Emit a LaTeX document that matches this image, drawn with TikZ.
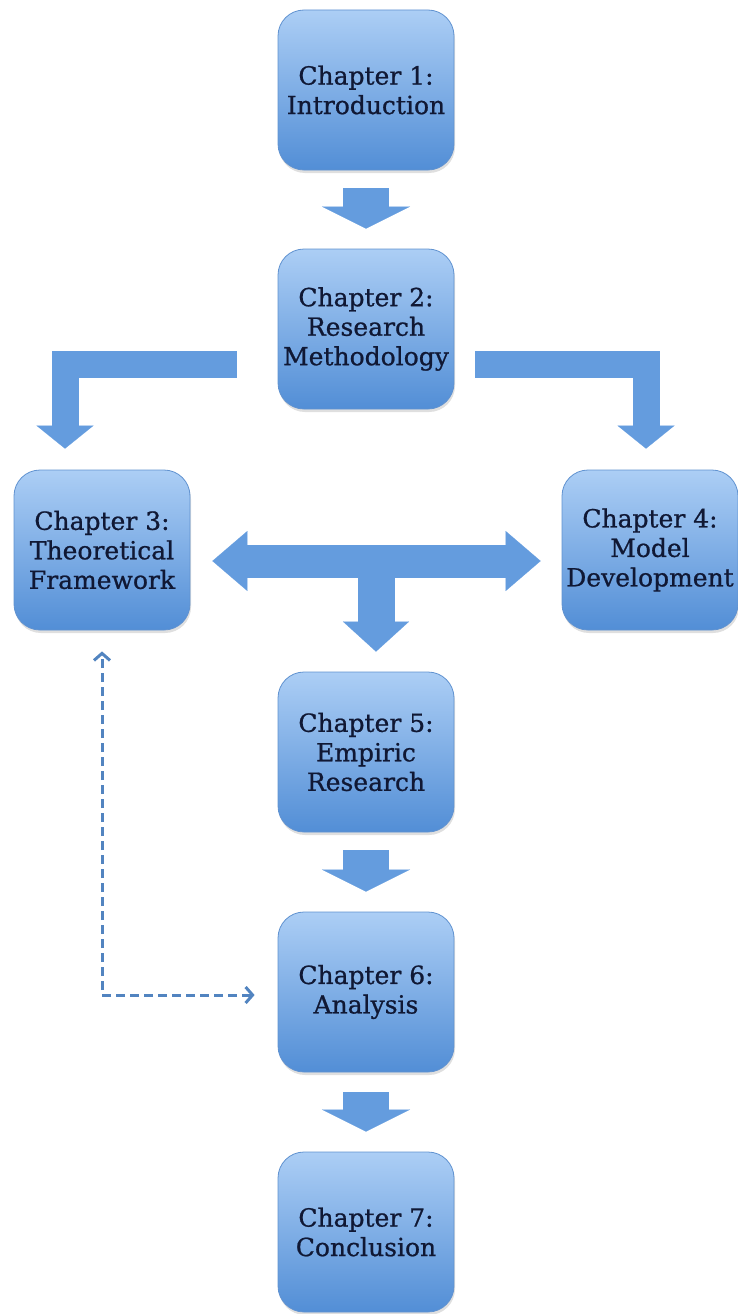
\documentclass[tikz,border=0pt]{standalone}
\usepackage{fontspec}
\setmainfont{DejaVu Serif}
\usepackage{xcolor}
\usepackage{tikz}
\usetikzlibrary{arrows.meta,positioning,calc,shadows}
\definecolor{boxtop}{RGB}{172,206,245}
\definecolor{boxbottom}{RGB}{82,142,214}
\definecolor{boxline}{RGB}{96,146,208}
\definecolor{flowblue}{RGB}{100,156,222}
\definecolor{dashblue}{RGB}{82,132,192}
\definecolor{darktext}{RGB}{16,24,52}

\begin{document}
\begin{tikzpicture}[x=1pt,y=-1pt,
  chap/.style={draw=boxline,line width=0.8pt,top color=boxtop,bottom color=boxbottom,
               rounded corners=26pt,minimum width=176pt,minimum height=160pt,
               inner sep=0pt,align=center,text=darktext,
               font=\fontsize{25}{29.5}\selectfont\addfontfeatures{FakeBold=0.8},
               drop shadow={shadow xshift=1pt,shadow yshift=-3pt,opacity=0.25}},
  flow/.style={line width=46pt,color=flowblue,
               -{Triangle[length=22pt,width=88pt,line width=0.1pt]}},
  turnflow/.style={line width=27pt,color=flowblue,line join=miter,
               -{Triangle[length=23pt,width=57pt,line width=0.1pt]}},
  twoway/.style={line width=33pt,color=flowblue,
               {Triangle[length=35pt,width=60pt,line width=0.1pt]}-{Triangle[length=35pt,width=60pt,line width=0.1pt]}},
  downflow/.style={line width=37pt,color=flowblue,
               -{Triangle[length=30pt,width=66pt,line width=0.1pt]}},
  loopback/.style={line width=3pt,color=dashblue,dash pattern=on 9pt off 5pt,
               {Straight Barb[length=7pt,width=16pt]}-{Straight Barb[length=7pt,width=16pt]}}
]
\useasboundingbox (0,0) rectangle (738,1314);

\node[chap] (ch1) at (366,90)   {Chapter 1:\\Introduction};
\node[chap] (ch2) at (366,329)  {Chapter 2:\\Research\\Methodology};
\node[chap] (ch3) at (102,550)  {Chapter 3:\\Theoretical\\Framework};
\node[chap] (ch4) at (650,550)  {Chapter 4:\\Model\\Development};
\node[chap] (ch5) at (366,752)  {Chapter 5:\\Empiric\\Research};
\node[chap] (ch6) at (366,992)  {Chapter 6:\\Analysis};
\node[chap] (ch7) at (366,1232) {Chapter 7:\\Conclusion};

\draw[flow] ([yshift=-18pt]ch1.south) -- ([yshift=20pt]ch2.north);
\draw[turnflow] ([xshift=-41pt,yshift=-35pt]ch2.west) -| ([xshift=-37pt,yshift=21pt]ch3.north);
\draw[turnflow] ([xshift=21pt,yshift=-35pt]ch2.east) -| ([xshift=-4pt,yshift=21pt]ch4.north);

\coordinate (mid) at ($(ch3.east)!0.5!(ch4.west)+(0,11)$);
\draw[downflow] (mid) -- ([xshift=10pt,yshift=20pt]ch5.north);
\draw[twoway] ([xshift=22pt,yshift=-11pt]ch3.east) -- ([xshift=-21pt,yshift=-11pt]ch4.west);

\draw[flow] ([yshift=-18pt]ch5.south) -- ([yshift=20pt]ch6.north);
\draw[flow] ([yshift=-20pt]ch6.south) -- ([yshift=20pt]ch7.north);

\draw[loopback] ([xshift=-23pt,yshift=-3pt]ch6.west) -| ([yshift=-21pt]ch3.south);
\end{tikzpicture}
\end{document}
